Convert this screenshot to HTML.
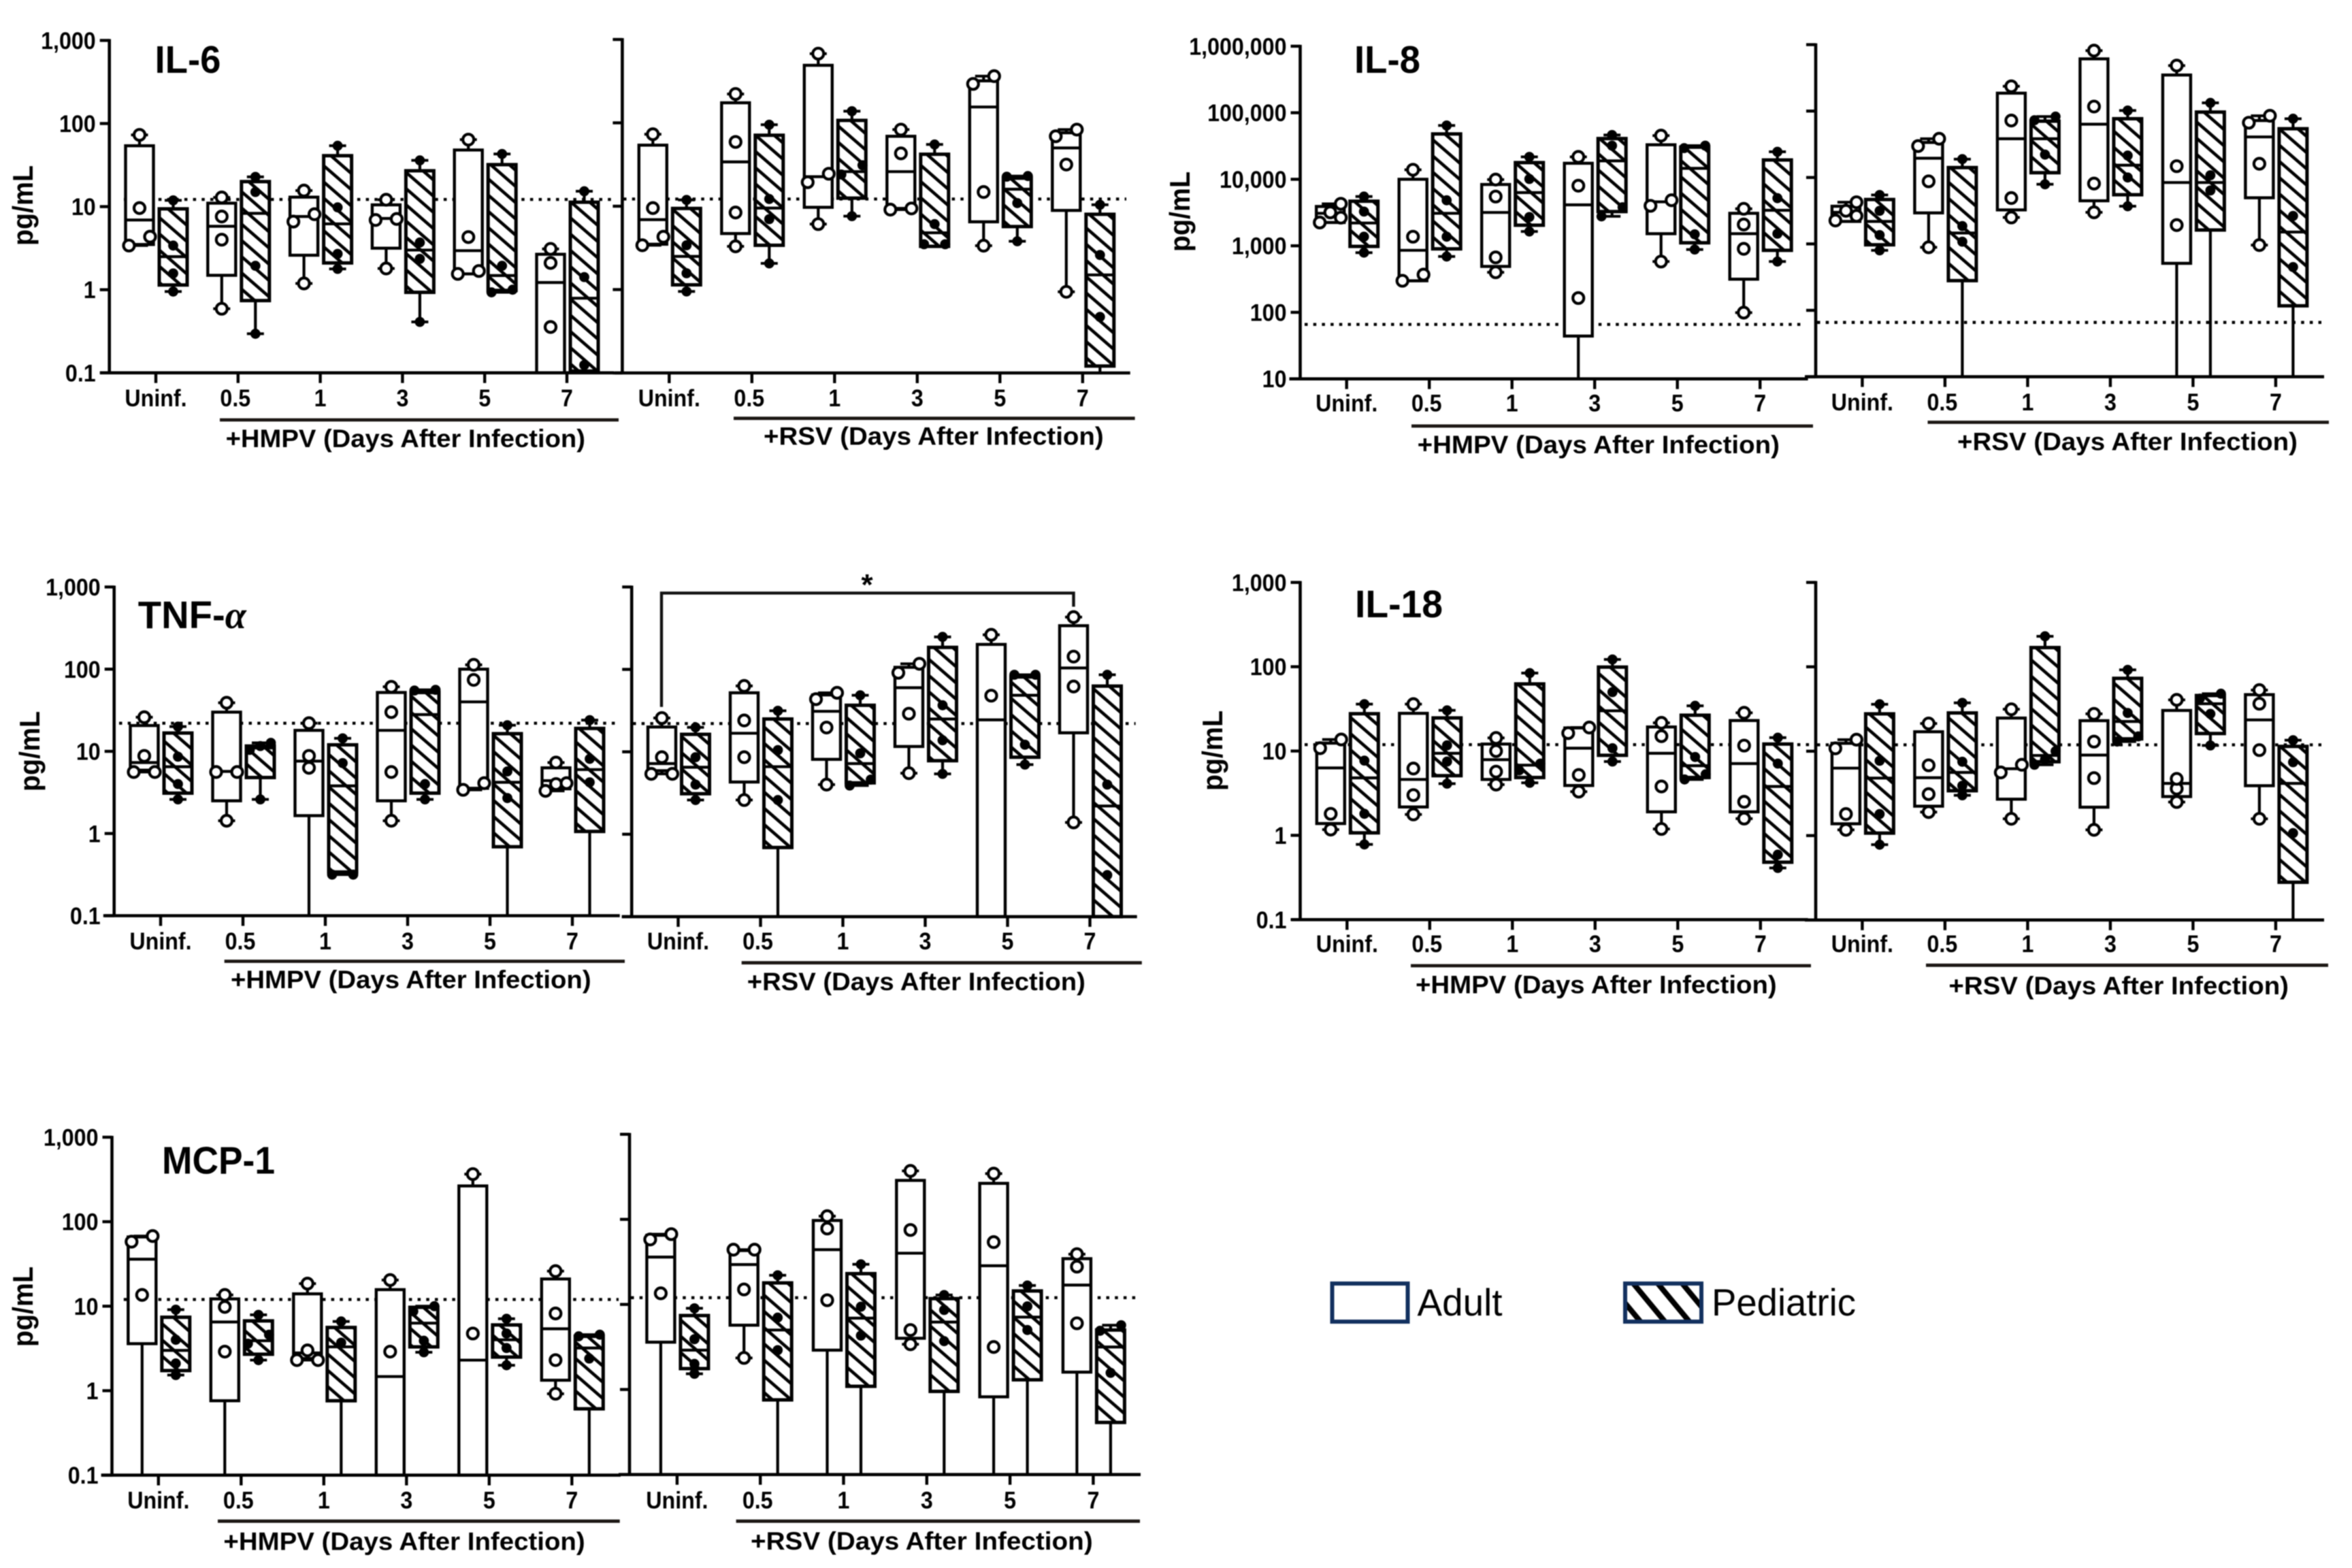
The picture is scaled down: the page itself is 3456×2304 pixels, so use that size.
<!DOCTYPE html>
<html lang="en">
<head>
<meta charset="utf-8">
<title>Cytokine levels after HMPV and RSV infection</title>
<style>
html,body{margin:0;padding:0;background:#fff;}
body{width:3456px;height:2304px;overflow:hidden;}
svg{display:block;filter:blur(0.7px);}
text{font-family:"Liberation Sans",Arial,sans-serif;fill:#000;}
.b{font-weight:700;}
</style>
</head>
<body>
<svg id="chart" xmlns="http://www.w3.org/2000/svg" width="3456" height="2304" viewBox="0 0 3456 2304">
<defs>
<pattern id="hatch" patternUnits="userSpaceOnUse" width="18" height="10" patternTransform="rotate(-49)">
<rect width="18" height="10" fill="#fff"/>
<rect x="0" y="0" width="4.6" height="10" fill="#000"/>
</pattern>
<pattern id="legend-hatch" patternUnits="userSpaceOnUse" width="27.7" height="10" patternTransform="rotate(-39.6) translate(6 0)">
<rect width="27.7" height="10" fill="#fff"/>
<rect x="0" y="0" width="8" height="10" fill="#000"/>
</pattern>
</defs>
<rect width="3456" height="2304" fill="#fff"/>
<g id="panels"></g>

<text class="b" x="227.5" y="107" font-size="57" textLength="97" lengthAdjust="spacingAndGlyphs">IL-6</text>
<text class="b" x="1990" y="107" font-size="57" textLength="97" lengthAdjust="spacingAndGlyphs">IL-8</text>
<text class="b" x="202.8" y="922.8" font-size="57" textLength="159" lengthAdjust="spacingAndGlyphs">TNF-<tspan style="font-family:'Liberation Serif',serif;font-style:italic">α</tspan></text>
<text class="b" x="1991" y="907" font-size="57" textLength="129" lengthAdjust="spacingAndGlyphs">IL-18</text>
<text class="b" x="238" y="1724.7" font-size="57" textLength="166" lengthAdjust="spacingAndGlyphs">MCP-1</text>

<text class="b" font-size="42" text-anchor="middle" textLength="118" lengthAdjust="spacingAndGlyphs" transform="translate(48 302) rotate(-90)">pg/mL</text>
<text class="b" font-size="42" text-anchor="middle" textLength="118" lengthAdjust="spacingAndGlyphs" transform="translate(1748 311) rotate(-90)">pg/mL</text>
<text class="b" font-size="42" text-anchor="middle" textLength="118" lengthAdjust="spacingAndGlyphs" transform="translate(58 1104) rotate(-90)">pg/mL</text>
<text class="b" font-size="42" text-anchor="middle" textLength="118" lengthAdjust="spacingAndGlyphs" transform="translate(1796 1103) rotate(-90)">pg/mL</text>
<text class="b" font-size="42" text-anchor="middle" textLength="118" lengthAdjust="spacingAndGlyphs" transform="translate(48 1920) rotate(-90)">pg/mL</text>

<path d="M972 1038.8V871.4H1577.5V891.5" fill="none" stroke="#111" stroke-width="4.4"/>
<text class="b" x="1274" y="874" font-size="44" text-anchor="middle">*</text>

<g>
<rect x="1957.5" y="1886" width="111" height="56" fill="#fff" stroke="#12305f" stroke-width="6"/>
<text x="2082.5" y="1933" font-size="56" textLength="125" lengthAdjust="spacingAndGlyphs">Adult</text>
<rect x="2388" y="1886" width="112" height="56" fill="url(#legend-hatch)" stroke="#12305f" stroke-width="6"/>
<text x="2515" y="1933" font-size="56" textLength="212" lengthAdjust="spacingAndGlyphs">Pediatric</text>
</g>

<script>
// ---------- categories and tick labels ----------
const timepoints = ['Uninf.', '0.5', '1', '3', '5', '7'];
const standardTickLabels = ['0.1', '1', '10', '100', '1,000'];
const standardTickValues = [0.1, 1, 10, 100, 1000];
const il8TickLabels = ['10', '100', '1,000', '10,000', '100,000', '1,000,000'];
const il8TickValues = [10, 100, 1000, 10000, 100000, 1000000];

// ---------- data: boxes are [q1, median, q3]; points are individual donors (pg/mL) ----------
const il6HmpvAdultBoxes = [[3.5,6.9,54],[1.49,5.8,11],[2.6,7.6,13],[3.16,7.2,10.5],[1.55,2.95,48],[0.09,1.22,2.67]];
const il6HmpvAdultPoints = [[73,9.6,4.35,3.4],[12.9,7.6,4,0.59],[15.6,8.1,6.6,1.19],[12.1,7.1,6.9,1.8],[64,4.3,1.68,1.55],[3.1,2.1,0.356,0.05]];
const il6HmpvPedBoxes = [[1.14,2.5,9.4],[0.74,8.3,20],[2.1,6.2,41],[0.93,3,27],[0.98,1.48,32],[0.105,0.79,11.3]];
const il6HmpvPedPoints = [[11.9,3.4,1.57,0.95],[22.8,15,1.94,0.295],[54,9.8,2.7,1.78],[36,3.7,2.35,0.41],[43,1.94,1,0.93],[15.3,1.42,0.124]];
const il6RsvAdultBoxes = [[3.5,6.9,54],[4.7,34,174],[9.7,22.6,490],[9.4,26,69],[6.5,155,319],[8.9,50,76]];
const il6RsvAdultPoints = [[73,9.5,4.3,3.4],[222,59,8.4,3.3],[676,24.5,19.4,6.1],[83,43,9.4,9.1],[363,293,14.8,3.36],[83,69,31.6,0.94]];
const il6RsvPedBoxes = [[1.14,2.5,9.4],[3.4,9.5,71],[12.5,26,107],[3.3,4.8,42],[5.7,16,21.7],[0.121,1.5,8]];
const il6RsvPedPoints = [[11.9,3.4,1.57,0.95],[95,12.2,7,2.06],[138,31,24,7.6],[55,6.1,3.5,3.5],[23,22.6,10.9,3.8],[10.4,2.6,0.47,0.05]];

const il8HmpvAdultBoxes = [[2240,3080,3900],[298,855,10000],[490,3170,8350],[44,4130,17400],[1520,4580,33000],[315,1520,3080]];
const il8HmpvAdultPoints = [[4280,3180,2650,2240],[13900,1370,369,298],[9900,5500,670,400],[21700,8000,164,5],[45300,4840,3990,580],[3600,2090,900,99]];
const il8HmpvPedBoxes = [[980,2200,4680],[900,3080,48000],[2040,6300,17800],[3270,18900,40900],[1110,14600,30400],[855,3420,19500]];
const il8HmpvPedPoints = [[5500,3270,1370,790],[64400,4830,1370,690],[21700,10100,2710,1640],[46300,32000,3800,2770],[32000,29400,1490,880],[25900,5200,1520,580]];
const il8RsvAdultBoxes = [[2180,2990,3690],[2930,19500,33700],[3250,38300,186000],[4460,63400,611000],[510,8400,349000],[4950,40800,72000]];
const il8RsvAdultPoints = [[4240,3150,2640,2250],[38300,29700,8750,890],[236000,72000,4900,2500],[813000,117000,8100,2990],[484000,14800,1920,5],[85000,66800,16100,960]];
const il8RsvPedBoxes = [[970,2180,4660],[280,1460,14100],[11800,38300,70500],[5500,15300,76700],[1620,8400,96600],[117,1510,54200]];
const il8RsvPedPoints = [[5450,3150,1360,800],[18900,1860,1080,5],[82600,72800,22100,7900],[102000,21400,10000,3690],[133000,10800,6380,5],[76700,2640,449,5]];

const tnfHmpvAdultBoxes = [[5.9,7.3,20.6],[2.5,5.7,30],[1.65,7.6,18],[2.5,18,52],[3.55,40,100],[3.5,4.4,6.3]];
const tnfHmpvAdultPoints = [[26,8.8,5.6,5.6],[39,5.6,5.6,1.43],[22,8.8,6.3,0.05],[61,30,5.6,1.43],[113,74,4.1,3.4],[7.3,4.1,4,3.3]];
const tnfHmpvPedBoxes = [[3.1,6.5,16.7],[4.8,11,11.6],[0.34,3.8,12],[3.1,28,52],[0.69,4.2,16.4],[1.06,6,19]];
const tnfHmpvPedPoints = [[20,8.6,4,2.6],[12.7,11.6,10.4,2.6],[14.4,7.2,0.316,0.316],[56,55,4,2.6],[20.8,5.7,2.7,0.05],[24,8.1,4.2,0.05]];
const tnfRsvAdultBoxes = [[5.9,7.2,20],[4.3,16.8,52],[8.1,31,49],[11.6,60,106],[0.09,24.4,201],[17,104,339]];
const tnfRsvAdultPoints = [[25.7,8.6,5.4,5.4],[63,24,8.6,2.6],[52,43.5,19.7,4],[117,91,29,5.5],[263,48,0.05,0.04],[431,143,62,1.39]];
const tnfRsvPedBoxes = [[3.1,6.5,16.3],[0.69,6.6,25],[4.2,7.2,36.7],[7.8,25,185],[8.6,48.5,81],[0.09,2.2,62.7]];
const tnfRsvPedPoints = [[19.8,8.6,4,2.6],[31.5,10.5,2.6,0.05],[48.5,9.6,4.6,3.9],[248,36.7,13.8,5.4],[86,86,12.2,7],[86,4,0.32,0.05]];

const il18HmpvAdultBoxes = [[1.38,6.3,12.4],[2.17,4.6,28],[4.6,7.9,12.1],[3.9,10.8,18.8],[1.9,9.4,19.3],[1.9,7.1,23]];
const il18HmpvAdultPoints = [[13.7,10.8,1.8,1.17],[36,6.2,3,1.77],[14.3,10,5.7,4],[19,16.3,5.2,3.3],[21.6,15,3.8,1.19],[28.4,11.6,2.5,1.58]];
const il18HmpvPedBoxes = [[1.07,4.8,27.7],[5.1,9.4,24.7],[4.85,6.8,62.5],[8.9,30,99],[4.85,6.7,26.6],[0.48,3.8,12.1]];
const il18HmpvPedPoints = [[36,7.7,1.8,0.78],[30.4,11.7,7.5,4.1],[84,7.1,5.9,4.2],[122,50,10.8,7.5],[34.4,8.5,5.3,4.6],[14.4,7.1,0.59,0.41]];
const il18RsvAdultBoxes = [[1.38,6.3,12.4],[2.23,4.85,17],[2.7,6.2,24.7],[2.17,9,23],[2.9,4.15,30.4],[3.9,23.5,46.8]];
const il18RsvAdultPoints = [[13.7,10.8,1.8,1.17],[21.3,6.8,3.1,1.9],[31.4,6.9,5.6,1.58],[27.7,13,4.8,1.17],[40.6,4.7,3.6,2.5],[53,36.5,10.3,1.58]];
const il18RsvPedBoxes = [[1.07,4.8,27.7],[3.4,5.6,28.4],[7.5,8.9,169],[14,22.5,73],[16.2,36.5,45.7],[0.28,4.15,11.4]];
const il18RsvPedPoints = [[36,7.7,1.8,0.78],[37.4,7.5,3.9,3],[230,10,8,6.9],[92,28.4,15,13],[48,42,27.7,11.7],[13.5,7.4,1.07,0.05]];

const mcpHmpvAdultBoxes = [[3.6,36,66],[0.76,6.5,12.2],[2.4,2.8,14],[0.09,1.47,15.7],[0.09,2.3,265],[1.33,5.4,21]];
const mcpHmpvAdultPoints = [[67.6,58,13.6,0.05],[13.6,9.8,2.9,0.05],[18.5,3,2.3,2.3],[20.4,2.9,0.05,0.05],[366,4.75,0.05,0.05],[26,8.2,2.3,0.92]];
const mcpHmpvPedBoxes = [[1.73,3,7.4],[2.7,3.9,6.7],[0.76,3.3,5.6],[3.3,6.3,9.7],[2.5,4,6],[0.61,3.2,4.4]];
const mcpHmpvPedPoints = [[9.1,4,2.1,1.53],[7.9,4.6,3.6,2.3],[6.6,3.7,0.05],[10,8.7,3.9,2.85],[7.1,4.75,3.2,2],[4.6,4.4,2.4,0.05]];
const mcpRsvAdultBoxes = [[3.6,36,65],[5.7,29.4,43],[2.9,44,97],[4,40,287],[0.82,28.5,265],[1.6,16.9,34.5]];
const mcpRsvAdultPoints = [[67,58,13.5,0.05],[44,44,15,2.35],[109,78,11.2,0.05],[371,75,5,3.4],[345,54,3.16,0.05],[39,27.8,6,0.05]];
const mcpRsvPedBoxes = [[1.76,2.9,7.4],[0.755,5,17.9],[1.09,6.9,23],[0.95,6.2,11.7],[1.3,7.1,14.4],[0.41,3.16,5]];
const mcpRsvPedPoints = [[9,3.9,2,1.53],[22,7,2.9,0.05],[29.6,9.4,4.3,0.05],[12.9,8.6,3.7,0.05],[16.7,9.5,5,0.05],[5.7,4.9,1.57,0.05]];

// ---------- reference (limit-of-detection) dotted line values, pg/mL ----------
const il6Reference = 12.2;
const il8Reference = 65.8;
const tnfReference = 22;
const il18Reference = 11.9;
const mcpReference = 12;

// ---------- layout (positions only) ----------
const layouts = [
 {name:'il-6-hmpv',group:'+HMPV (Days After Infection)',ticks:standardTickValues,labels:standardTickLabels,axisX:160.7,yTop:59.4,yBottom:547.8,tick0:229,step:120.8,xStart:147,xEnd:902,ref:il6Reference,refX1:182,refX2:905,line:[323,909,617],text:[331.6,860,656],labelY:596,adult:il6HmpvAdultBoxes,adultPts:il6HmpvAdultPoints,ped:il6HmpvPedBoxes,pedPts:il6HmpvPedPoints},
 {name:'il-6-rsv',group:'+RSV (Days After Infection)',ticks:standardTickValues,labels:null,axisX:914.4,yTop:58,yBottom:548,tick0:983.3,step:121.5,xStart:903,xEnd:1660.7,ref:il6Reference,refX1:916,refX2:1655,line:[1078,1667.6,614.7],text:[1122,1621.7,652.7],labelY:596,adult:il6RsvAdultBoxes,adultPts:il6RsvAdultPoints,ped:il6RsvPedBoxes,pedPts:il6RsvPedPoints},
 {name:'il-8-hmpv',group:'+HMPV (Days After Infection)',ticks:il8TickValues,labels:il8TickLabels,axisX:1910.5,yTop:67.9,yBottom:556.7,tick0:1978.7,step:121.5,xStart:1894.5,xEnd:2656.6,ref:il8Reference,refX1:1917,refX2:2653,line:[2074,2664,626],text:[2082.6,2615,665],labelY:603.6,adult:il8HmpvAdultBoxes,adultPts:il8HmpvAdultPoints,ped:il8HmpvPedBoxes,pedPts:il8HmpvPedPoints},
 {name:'il-8-rsv',group:'+RSV (Days After Infection)',ticks:il8TickValues,labels:null,axisX:2668,yTop:65.6,yBottom:553.6,tick0:2736.4,step:121.5,xStart:2652,xEnd:3415,ref:il8Reference,refX1:2670,refX2:3411,line:[2832.5,3422,620.5],text:[2876,3376,660.7],labelY:601.8,adult:il8RsvAdultBoxes,adultPts:il8RsvAdultPoints,ped:il8RsvPedBoxes,pedPts:il8RsvPedPoints},
 {name:'tnf-alpha-hmpv',group:'+HMPV (Days After Infection)',ticks:standardTickValues,labels:standardTickLabels,axisX:167.7,yTop:862.5,yBottom:1345.5,tick0:236,step:121,xStart:151.8,xEnd:910.7,ref:tnfReference,refX1:175,refX2:909,line:[329.7,918,1412.5],text:[339,868.6,1451],labelY:1393.8,adult:tnfHmpvAdultBoxes,adultPts:tnfHmpvAdultPoints,ped:tnfHmpvPedBoxes,pedPts:tnfHmpvPedPoints},
 {name:'tnf-alpha-rsv',group:'+RSV (Days After Infection)',ticks:standardTickValues,labels:null,axisX:928.2,yTop:862.5,yBottom:1346.9,tick0:996.5,step:121,xStart:913.6,xEnd:1670.7,ref:tnfReference,refX1:930,refX2:1668.6,line:[1089.7,1677.8,1414.7],text:[1097.8,1594.9,1454],labelY:1393.8,adult:tnfRsvAdultBoxes,adultPts:tnfRsvAdultPoints,ped:tnfRsvPedBoxes,pedPts:tnfRsvPedPoints},
 {name:'il-18-hmpv',group:'+HMPV (Days After Infection)',ticks:standardTickValues,labels:standardTickLabels,axisX:1910.5,yTop:855.8,yBottom:1351.3,tick0:1979.3,step:121.5,xStart:1897.7,xEnd:2656.6,ref:il18Reference,refX1:1917,refX2:2660,line:[2073,2661,1419],text:[2080,2610.7,1458.5],labelY:1398,adult:il18HmpvAdultBoxes,adultPts:il18HmpvAdultPoints,ped:il18HmpvPedBoxes,pedPts:il18HmpvPedPoints},
 {name:'il-18-rsv',group:'+RSV (Days After Infection)',ticks:standardTickValues,labels:null,axisX:2668,yTop:855.8,yBottom:1351.8,tick0:2736.4,step:121.5,xStart:2652,xEnd:3415,ref:il18Reference,refX1:2670,refX2:3411,line:[2830,3421,1418.3],text:[2863.4,3363,1459.8],labelY:1398,adult:il18RsvAdultBoxes,adultPts:il18RsvAdultPoints,ped:il18RsvPedBoxes,pedPts:il18RsvPedPoints},
 {name:'mcp-1-hmpv',group:'+HMPV (Days After Infection)',ticks:standardTickValues,labels:standardTickLabels,axisX:164.5,yTop:1671,yBottom:2167.6,tick0:232.8,step:121.5,xStart:148.6,xEnd:912,ref:mcpReference,refX1:181.8,refX2:909,line:[320,910.7,2235.2],text:[328.4,859.7,2276.6],labelY:2215.5,adult:mcpHmpvAdultBoxes,adultPts:mcpHmpvAdultPoints,ped:mcpHmpvPedBoxes,pedPts:mcpHmpvPedPoints},
 {name:'mcp-1-rsv',group:'+RSV (Days After Infection)',ticks:standardTickValues,labels:null,axisX:925,yTop:1666.7,yBottom:2166.7,tick0:994.9,step:122.3,xStart:909,xEnd:1676,ref:mcpReference,refX1:927,refX2:1672,line:[1081.6,1675,2235.2],text:[1103,1605.7,2275.8],labelY:2215.5,adult:mcpRsvAdultBoxes,adultPts:mcpRsvAdultPoints,ped:mcpRsvPedBoxes,pedPts:mcpRsvPedPoints}
];

const SVGNS = 'http://www.w3.org/2000/svg';
const root = document.getElementById('panels');
const ADULT_OFFSET = -24;
const PED_OFFSET = 25.5;
const BOX_WIDTH = 41;
const CAP_WIDTH = 25;
const SWARM_GAP = 14;
const SWARM_PATTERNS = {1:[0],2:[-15.5,15.5],3:[-15.5,0,15.5],4:[-15.5,15.5,0,15.5]};

function mk(tag, attrs, parent, text) {
  const el = document.createElementNS(SVGNS, tag);
  for (const k in attrs) el.setAttribute(k, attrs[k]);
  if (text !== undefined) el.textContent = text;
  parent.appendChild(el);
  return el;
}

// narrow the label to match the condensed look of the source figure
function condense(el, factor) {
  el.setAttribute('textLength', el.getComputedTextLength() * factor);
  el.setAttribute('lengthAdjust', 'spacingAndGlyphs');
}

function yScale(L) {
  const lo = Math.log10(L.ticks[0]);
  const hi = Math.log10(L.ticks[L.ticks.length - 1]);
  return v => L.yTop + (hi - Math.log10(v)) * (L.yBottom - L.yTop) / (hi - lo);
}
function xScale(L) {
  return i => L.tick0 + i * L.step;
}

function drawSeries(g, L, boxes, points, offset, isPed) {
  const y = yScale(L);
  const x = xScale(L);
  const clampY = v => Math.min(y(v), L.yBottom);
  boxes.forEach((b, i) => {
    const cx = x(i) + offset;
    const pts = points[i];
    const maxY = clampY(Math.max.apply(null, pts));
    const minY = clampY(Math.min.apply(null, pts));

    const whisker = mk('line', {x1:cx, x2:cx, y1:maxY, y2:minY, stroke:'#000', 'stroke-width':4.2}, g);
    
    

    const capTop = mk('line', {x1:cx-CAP_WIDTH/2, x2:cx+CAP_WIDTH/2, y1:maxY, y2:maxY, stroke:'#000', 'stroke-width':4}, g);
    
    

    if (minY < L.yBottom) {
      const capBottom = mk('line', {x1:cx-CAP_WIDTH/2, x2:cx+CAP_WIDTH/2, y1:minY, y2:minY, stroke:'#000', 'stroke-width':4}, g);
      
      
    }

    const top = y(b[2]);
    const bottom = clampY(b[0]);
    const rect = mk('rect', {x:cx-BOX_WIDTH/2, y:top, width:BOX_WIDTH, height:bottom-top, fill:isPed?'url(#hatch)':'#fff', stroke:'#000', 'stroke-width':isPed?5:4.4}, g);
    
    

    const med = mk('line', {x1:cx-BOX_WIDTH/2, x2:cx+BOX_WIDTH/2, y1:y(b[1]), y2:y(b[1]), stroke:'#000', 'stroke-width':4.2}, g);
    
    

    // beeswarm: points close together in y spread sideways, lowest value first
    const ys = pts.map(clampRaw => y(clampRaw)).filter(v => v <= L.yBottom).sort((a, c) => c - a);
    let run = [];
    const flush = () => {
      const pat = SWARM_PATTERNS[run.length] || SWARM_PATTERNS[4];
      run.forEach((py, k) => {
        const px = cx + pat[k % pat.length];
        const dot = isPed
          ? mk('circle', {cx:px, cy:py, r:7.4, fill:'#000'}, g)
          : mk('circle', {cx:px, cy:py, r:8, fill:'#fff', stroke:'#000', 'stroke-width':4.2}, g);
        
        
      });
      run = [];
    };
    ys.forEach(py => {
      if (run.length && run[run.length - 1] - py > SWARM_GAP) flush();
      run.push(py);
    });
    if (run.length) flush();
  });
}

function drawPanel(L) {
  const g = mk('g', {}, root);
  
  
  const y = yScale(L);
  const x = xScale(L);

  const ref = mk('line', {x1:L.refX1, x2:L.refX2, y1:y(L.ref), y2:y(L.ref), stroke:'#000', 'stroke-width':4.4, 'stroke-dasharray':'4.5 8.2'}, g);
  
  

  drawSeries(g, L, L.adult, L.adultPts, ADULT_OFFSET, false);
  drawSeries(g, L, L.ped, L.pedPts, PED_OFFSET, true);

  const yAxis = mk('line', {x1:L.axisX, x2:L.axisX, y1:L.yTop-2, y2:L.yBottom+2, stroke:'#000', 'stroke-width':4.6}, g);
  
  

  const xAxis = mk('line', {x1:L.xStart, x2:L.xEnd, y1:L.yBottom, y2:L.yBottom, stroke:'#000', 'stroke-width':4.6}, g);
  
  

  L.ticks.forEach((t, i) => {
    const ty = y(t);
    const tick = mk('line', {x1:L.axisX-14, x2:L.axisX, y1:ty, y2:ty, stroke:'#000', 'stroke-width':4.4}, g);
    
    
    if (L.labels) {
      const lab = mk('text', {x:L.axisX-20, y:ty+12.5, 'text-anchor':'end', 'font-size':35, class:'b'}, g, L.labels[i]);
      
      
      condense(lab, 0.92);
    }
  });

  timepoints.forEach((c, i) => {
    const tx = x(i);
    const tick = mk('line', {x1:tx, x2:tx, y1:L.yBottom, y2:L.yBottom+15, stroke:'#000', 'stroke-width':4.4}, g);
    
    
    const lab = mk('text', {x:tx-(c==='0.5'?4:0), y:L.labelY+1, 'text-anchor':'middle', 'font-size':35, class:'b'}, g, c);
    
    
    condense(lab, 0.92);
  });

  const gl = mk('line', {x1:L.line[0], x2:L.line[1], y1:L.line[2], y2:L.line[2], stroke:'#1a1512', 'stroke-width':4.8}, g);
  
  

  const gt = mk('text', {x:L.text[0], y:L.text[2]+1, 'font-size':37, class:'b', textLength:L.text[1]-L.text[0], lengthAdjust:'spacingAndGlyphs'}, g, L.group);
  
  
}

layouts.forEach(drawPanel);
</script>
</svg>
</body>
</html>
